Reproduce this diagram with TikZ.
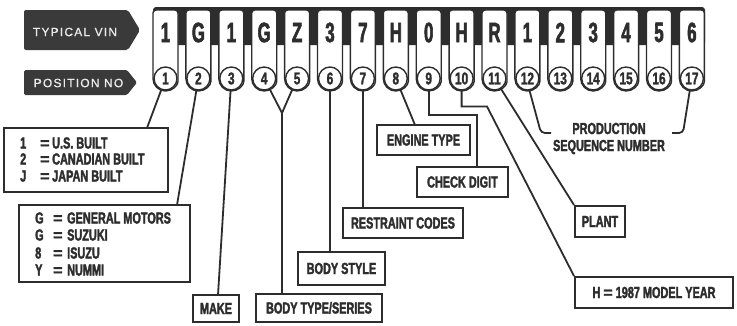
\documentclass[tikz,border=0pt]{standalone}
\usepackage{fontspec}
\newfontfamily\lblfont[FakeStretch=0.68,FakeBold=2]{Liberation Sans Bold}
\newfontfamily\eqfont[FakeBold=2]{Liberation Sans Bold}
\newfontfamily\vinfont[FakeStretch=0.6,FakeBold=2]{Liberation Sans Bold}
\newfontfamily\numfont[FakeStretch=0.7,FakeBold=1.5]{Liberation Sans Bold}
\newfontfamily\tagfont[LetterSpace=10,FakeBold=0.8]{Liberation Sans}
\definecolor{ink}{RGB}{45,45,45}
\definecolor{tagfill}{RGB}{58,58,58}
\definecolor{tagtext}{RGB}{235,235,235}
\begin{document}
\begin{tikzpicture}[x=1pt,y=-1pt,
  lbl/.style={font=\lblfont\fontsize{16}{17}\selectfont, text=ink, inner sep=0pt},
  boxlbl/.style={draw=ink, line width=2pt, inner sep=0pt, rectangle, font=\lblfont\fontsize{16}{17}\selectfont, text=ink, text height=11pt, text depth=0pt},
  box/.style={draw=ink, line width=2pt, inner sep=0pt, rectangle},
  wire/.style={draw=ink, line width=1.8pt},
  tabshape/.style={draw=ink, fill=white, line width=1.4pt},
  poscirc/.style={circle, draw=ink, line width=1.4pt, minimum size=23pt, inner sep=0pt, font=\numfont\fontsize{17}{17}\selectfont, text=ink},
  vinchar/.style={font=\vinfont\fontsize{28}{28}\selectfont, text=ink, inner sep=0pt},
  tagtxt/.style={font=\tagfont\fontsize{12}{12}\selectfont, text=tagtext, inner sep=0pt}
]
\useasboundingbox (0,0) rectangle (737,325);
\fill[white] (0,0) rectangle (737,325);

% left tags
\fill[tagfill, rounded corners=2pt] (24,10) -- (128,10) -- (140,30) -- (128,50) -- (24,50) -- cycle;
\node[tagtxt] (tv) at (75,32) {TYPICAL VIN};
\fill[tagfill, rounded corners=1.5pt] (24,70) -- (127,70) -- (137,82.5) -- (127,95) -- (24,95) -- cycle;
\node[tagtxt] (pn) at (78.5,83) {POSITION NO};

% VIN frame
\fill[ink, rounded corners=3pt] (153,7) rectangle (705,45);
\foreach \i/\ch in {1/1,2/G,3/1,4/G,5/Z,6/3,7/7,8/H,9/0,10/H,11/R,12/1,13/2,14/3,15/4,16/5,17/6} {
  \pgfmathsetmacro\xx{165.5+32.9*(\i-1)}
  \draw[tabshape] {[rounded corners=3pt] (\xx-12.5,78.5) -- (\xx-12.5,10) -- (\xx+12.5,10) -- (\xx+12.5,78.5)} arc (0:180:12.5) -- cycle;
  \node[vinchar] (v\i) at (\xx,32.5) {\ch};
  \node[poscirc] (c\i) at (\xx,78.5) {\i};
}

% boxes
\node[box, minimum width=164pt, minimum height=64pt] (ba) at (86,160) {};
\node[lbl, anchor=base west] (a1) at (20,148.5) {\makebox[20pt][l]{1}\makebox[12pt][l]{\eqfont=}U.S. BUILT};
\node[lbl, anchor=base west] (a2) at (20,164.5) {\makebox[20pt][l]{2}\makebox[12pt][l]{\eqfont=}CANADIAN BUILT};
\node[lbl, anchor=base west] (a3) at (20,181.5) {\makebox[20pt][l]{J}\makebox[12pt][l]{\eqfont=}JAPAN BUILT};

\node[box, minimum width=171pt, minimum height=77pt] (bb) at (104.5,243.5) {};
\node[lbl, anchor=base west] (b1) at (35,223.5) {\makebox[18pt][l]{G}\makebox[14pt][l]{\eqfont=}GENERAL MOTORS};
\node[lbl, anchor=base west] (b2) at (35,240.5) {\makebox[18pt][l]{G}\makebox[14pt][l]{\eqfont=}SUZUKI};
\node[lbl, anchor=base west] (b3) at (35,258.5) {\makebox[18pt][l]{8}\makebox[14pt][l]{\eqfont=}ISUZU};
\node[lbl, anchor=base west] (b4) at (35,275.5) {\makebox[18pt][l]{Y}\makebox[14pt][l]{\eqfont=}NUMMI};

\node[boxlbl, minimum width=46pt, minimum height=27pt] (make) at (216,308.5) {MAKE};
\node[boxlbl, minimum width=126pt, minimum height=28pt] (bts) at (319,308) {BODY TYPE/SERIES};
\node[boxlbl, minimum width=87pt, minimum height=33pt] (bstyle) at (341.5,268.5) {BODY STYLE};
\node[boxlbl, minimum width=120pt, minimum height=30pt] (rc) at (403,223) {RESTRAINT CODES};
\node[boxlbl, minimum width=93pt, minimum height=30pt] (et) at (423.5,140) {ENGINE TYPE};
\node[boxlbl, minimum width=91pt, minimum height=30pt] (cd) at (462.5,182) {CHECK DIGIT};
\node[boxlbl, minimum width=50pt, minimum height=31pt] (plant) at (600,221.5) {PLANT};
\node[boxlbl, minimum width=158pt, minimum height=31pt] (my) at (654,292.5) {H {\eqfont=} 1987 MODEL YEAR};
\node[lbl, align=center] (psn) at (609,138.5) {PRODUCTION\\SEQUENCE NUMBER};

% connectors
\coordinate (pa) at (147,128);
\draw[wire] (c1) -- (pa);
\coordinate (pb) at (177,205);
\draw[wire] (c2) -- (pb);
\coordinate (pm) at (218,295);
\draw[wire] (c3) -- (pm);
\coordinate (v45) at (282,113);
\draw[wire] (c4) -- (v45) -- (c5);
\draw[wire] (v45) -- (v45 |- bts.north);
\draw[wire] (c6) -- (c6 |- bstyle.north);
\draw[wire] (c7) -- (c7 |- rc.north);
\coordinate (pe) at (415,125);
\draw[wire] (c8) -- (pe);
\coordinate (k9) at (477,115);
\draw[wire] (c9.south) |- (k9) -- (k9 |- cd.north);
\coordinate (k10) at (487,106.5);
\draw[wire] (c10.south) |- (k10) -- (my.north west);
\draw[wire] (c11) -- (plant.north west);
\coordinate (b12) at (541,133);
\coordinate (e12) at (551,133);
\draw[wire, rounded corners=4pt] (c12.-80) -- (b12) -- (e12);
\coordinate (b17) at (683,133);
\coordinate (e17) at (672,133);
\draw[wire, rounded corners=4pt] (c17.-100) -- (b17) -- (e17);
\end{tikzpicture}
\end{document}
